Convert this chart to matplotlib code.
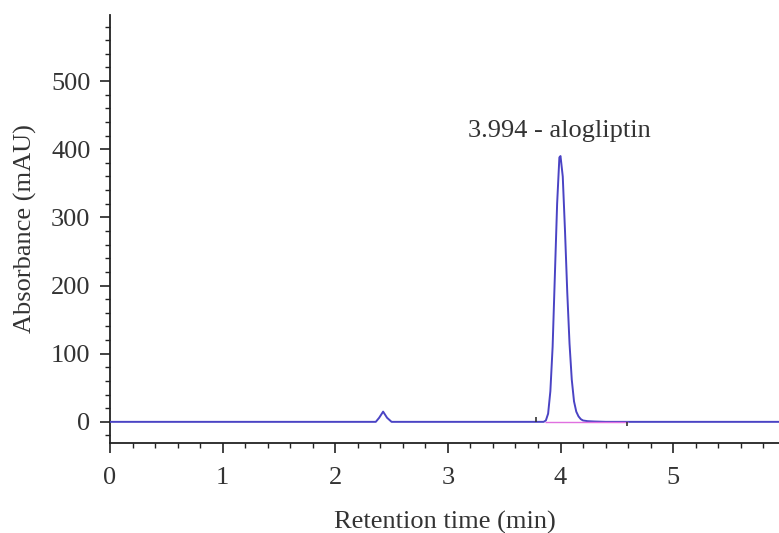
import numpy as np
import matplotlib
matplotlib.use("Agg")
import matplotlib.pyplot as plt
from matplotlib.ticker import MultipleLocator

# chromatogram trace (min, mAU)
time_min = [0.0, 1.0, 2.0, 2.36, 2.39, 2.425, 2.46, 2.50, 3.0, 3.5, 3.85,
            3.87, 3.89, 3.91, 3.93, 3.95, 3.97, 3.99, 4.00, 4.02, 4.04,
            4.06, 4.08, 4.10, 4.12, 4.14, 4.16, 4.18, 4.20, 4.24, 4.30,
            4.40, 5.0, 5.94]
absorbance = [0, 0, 0, 0, 6, 15, 6, 0, 0, 0, 0,
              2, 12, 45, 110, 215, 320, 388, 390, 360, 280,
              190, 115, 62, 30, 15, 8, 4, 2, 1, 0.5,
              0, 0, 0]

# integration baseline and event marks
baseline_start = 3.86
baseline_end = 4.60
event_marks = [3.78, 4.59]

peak_rt = 3.994
peak_name = "alogliptin"
peak_height = 390

x_ticks = [0, 1, 2, 3, 4, 5]
y_ticks = [0, 100, 200, 300, 400, 500]

plt.rcParams["font.family"] = ["Liberation Serif", "DejaVu Serif"]
text_color = "#333333"

fig = plt.figure(figsize=(7.79, 5.33), dpi=100)
ax = fig.add_axes([0.1412, 0.1689, 0.8588, 0.803])

ax.plot(time_min, absorbance, color="#4a43c4", lw=1.4, zorder=3)
ax.hlines(0, baseline_start, baseline_end, color="#e070e0", lw=1.0, zorder=4)
ax.vlines(event_marks[0], 0, 7, color="#333333", lw=1.2, zorder=5)
ax.vlines(event_marks[1], -6, 0, color="#333333", lw=1.2, zorder=5)

ax.text(peak_rt, peak_height + 20, f"{peak_rt:.3f} - {peak_name}",
        ha="center", va="bottom", fontsize=19, color=text_color)

ax.set_xlim(0, 5.94)
ax.set_ylim(-31, 597)
ax.set_xticks(x_ticks)
ax.set_yticks(y_ticks)
ax.xaxis.set_minor_locator(MultipleLocator(0.2))
ax.yaxis.set_minor_locator(MultipleLocator(20))

for side in ["top", "right"]:
    ax.spines[side].set_visible(False)
for side in ["left", "bottom"]:
    ax.spines[side].set_color("#222222")
    ax.spines[side].set_linewidth(1.3)

ax.tick_params(axis="both", which="major", direction="out", length=7,
               width=1.2, colors="#222222", labelsize=19,
               labelcolor=text_color)
ax.tick_params(axis="x", which="major", pad=10)
ax.tick_params(axis="y", which="major", pad=7)
ax.tick_params(axis="both", which="minor", direction="out", length=3.5,
               width=1.0, colors="#222222")

ax.set_xlabel("Retention time (min)", fontsize=19, color=text_color, labelpad=16)
ax.set_ylabel("Absorbance (mAU)", fontsize=19, color=text_color, labelpad=10)

fig.savefig("out.png", dpi=100)
